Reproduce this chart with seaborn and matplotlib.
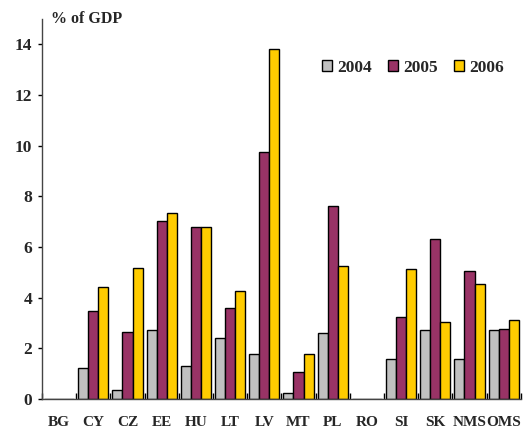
import matplotlib
matplotlib.use("Agg")
import matplotlib.pyplot as plt
import seaborn as sns
import pandas as pd
import numpy as np

countries = ["BG", "CY", "CZ", "EE", "HU", "LT", "LV", "MT", "PL", "RO", "SI", "SK", "NMS", "OMS"]
years = ["2004", "2005", "2006"]
v2004 = [0.0, 1.23, 0.34, 2.71, 1.29, 2.41, 1.76, 0.22, 2.60, 0.0, 1.59, 2.71, 1.59, 2.71]
v2005 = [0.0, 3.47, 2.65, 7.02, 6.78, 3.59, 9.75, 1.06, 7.61, 0.0, 3.25, 6.31, 5.07, 2.77]
v2006 = [0.0, 4.42, 5.18, 7.33, 6.78, 4.25, 13.81, 1.76, 5.24, 0.0, 5.14, 3.05, 4.53, 3.13]
colors = ["#C0C0C0", "#993366", "#FFCC00"]

df = pd.DataFrame({
    "country": countries * 3,
    "year": [y for y in years for _ in countries],
    "value": v2004 + v2005 + v2006,
})

sns.set_theme(style="white")
plt.rcParams["font.family"] = ["Liberation Serif", "DejaVu Serif"]
plt.rcParams["font.weight"] = "bold"

fig = plt.figure(figsize=(5.25, 4.32), dpi=100)
ax = fig.add_axes([0.08, 0.0764, 0.912, 0.88])

sns.barplot(data=df, x="country", y="value", hue="year", order=countries,
            hue_order=years, palette=colors, width=0.88, saturation=1,
            edgecolor="black", linewidth=1.0, ax=ax)

ax.set_ylim(0, 15)
ax.set_xlim(-0.5, len(countries) - 0.5)
ax.set_yticks(range(0, 15, 2))
ax.set_yticklabels([str(t) for t in range(0, 15, 2)], fontsize=12.5, fontweight="bold")
ax.set_xticks(np.arange(len(countries)))
ax.set_xticklabels(countries, fontsize=11, fontweight="bold")
ax.tick_params(axis="x", which="major", length=0, pad=12)
ax.set_xticks(np.arange(-0.5, len(countries)), minor=True)
ax.tick_params(axis="x", which="minor", direction="in", length=4, color="black",
               width=1, bottom=True)
ax.tick_params(axis="y", direction="out", length=3, color="black", width=1, pad=4, left=True)
ax.set_xlabel("")
ax.set_ylabel("")

for side in ["top", "right"]:
    ax.spines[side].set_visible(False)
for side in ["left", "bottom"]:
    ax.spines[side].set_color("#444444")
    ax.spines[side].set_linewidth(1.0)

fig.text(0.097, 0.955, "% of GDP", fontsize=11.5, fontweight="bold", ha="left", va="center")

leg = ax.legend(loc="upper left", bbox_to_anchor=(0.57, 0.91), ncol=3, frameon=False,
                prop={"size": 12.5, "weight": "bold"}, handlelength=0.6, handleheight=0.6,
                handletextpad=0.3, columnspacing=0.9, borderaxespad=0)

fig.savefig("out.png", dpi=100)
